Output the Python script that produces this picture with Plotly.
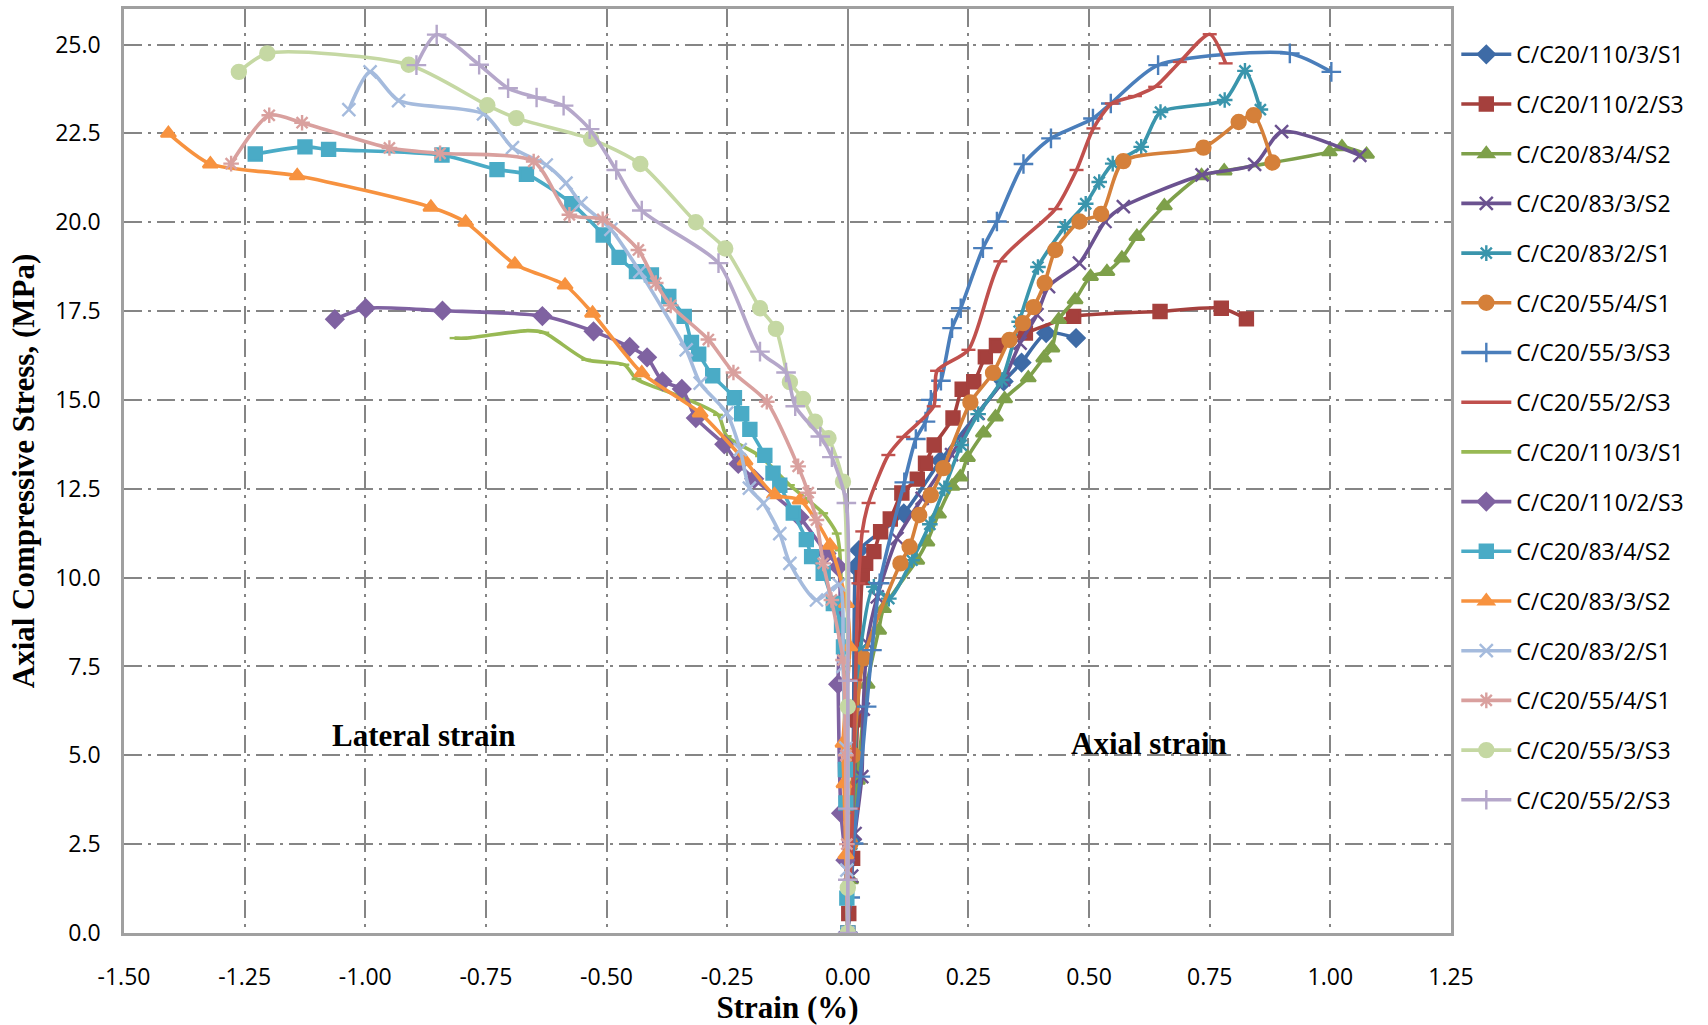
import plotly.graph_objects as go

# ---- series names (legend order) ----
names = [
    "C/C20/110/3/S1", "C/C20/110/2/S3", "C/C20/83/4/S2", "C/C20/83/3/S2",
    "C/C20/83/2/S1", "C/C20/55/4/S1", "C/C20/55/3/S3", "C/C20/55/2/S3",
    "C/C20/110/3/S1", "C/C20/110/2/S3", "C/C20/83/4/S2", "C/C20/83/3/S2",
    "C/C20/83/2/S1", "C/C20/55/4/S1", "C/C20/55/3/S3", "C/C20/55/2/S3",
]

# ---- axial strain (%) vs stress (MPa) ----
ax_110_3_s1_x = [0, 0.008, 0.012, 0.016, 0.023, 0.116, 0.192, 0.323, 0.360, 0.411, 0.473]
ax_110_3_s1_y = [0, 2.62, 6.0, 10.3, 10.77, 11.81, 13.29, 15.52, 16.05, 16.88, 16.74]

ax_110_2_s3_x = [0, 0.002, 0.010, 0.020, 0.030, 0.037, 0.054, 0.068, 0.088, 0.112, 0.144,
                 0.161, 0.179, 0.218, 0.237, 0.261, 0.285, 0.308, 0.368, 0.468, 0.647, 0.774, 0.826]
ax_110_2_s3_y = [0, 0.55, 2.1, 6.0, 10.0, 10.40, 10.73, 11.29, 11.65, 12.38, 12.77,
                 13.22, 13.73, 14.49, 15.30, 15.51, 16.21, 16.53, 16.88, 17.35, 17.49, 17.58, 17.28]

ax_83_4_s2_x = [0, 0.006, 0.020, 0.040, 0.064, 0.074, 0.143, 0.164, 0.188, 0.216, 0.233, 0.248,
                0.281, 0.306, 0.325, 0.374, 0.406, 0.423, 0.437, 0.471, 0.503, 0.537, 0.568,
                0.599, 0.656, 0.733, 0.780, 0.998, 1.024, 1.075]
ax_83_4_s2_y = [0, 1.5, 4.3, 7.0, 8.52, 9.13, 10.49, 11.0, 11.79, 12.57, 12.83, 13.38,
                14.07, 14.52, 15.03, 15.62, 16.18, 16.46, 17.26, 17.82, 18.47, 18.61, 18.99,
                19.60, 20.46, 21.31, 21.44, 21.98, 22.12, 21.91]

ax_83_3_s2_x = [0, 0.008, 0.015, 0.029, 0.032, 0.040, 0.061, 0.102, 0.154, 0.215, 0.270, 0.323,
                0.357, 0.392, 0.416, 0.480, 0.533, 0.571, 0.734, 0.843, 0.899, 1.061]
ax_83_3_s2_y = [0, 1.6, 2.8, 4.40, 6.3, 8.15, 9.46, 11.1, 12.23, 13.46, 14.62, 15.57,
                16.6, 17.40, 18.19, 18.85, 20.02, 20.44, 21.33, 21.63, 22.55, 21.88]

ax_83_2_s1_x = [0, 0.008, 0.015, 0.026, 0.054, 0.085, 0.133, 0.170, 0.200, 0.235, 0.270, 0.319,
                0.355, 0.394, 0.450, 0.493, 0.521, 0.549, 0.608, 0.648, 0.781, 0.823, 0.855]
ax_83_2_s1_y = [0, 2.5, 5.0, 7.96, 9.74, 9.41, 10.49, 11.5, 12.51, 13.73, 14.6, 15.56,
                17.2, 18.74, 19.87, 20.52, 21.13, 21.65, 22.12, 23.10, 23.44, 24.26, 23.17]

ax_55_4_s1_x = [0, 0.005, 0.012, 0.033, 0.109, 0.128, 0.148, 0.172, 0.198, 0.254, 0.301, 0.335,
                0.363, 0.385, 0.408, 0.430, 0.480, 0.525, 0.571, 0.737, 0.810, 0.841, 0.880]
ax_55_4_s1_y = [0, 2.5, 5.0, 7.73, 10.40, 10.87, 11.76, 12.32, 13.08, 14.93, 15.76, 16.69,
                17.16, 17.61, 18.29, 19.22, 20.02, 20.23, 21.72, 22.10, 22.82, 23.01, 21.68]

ax_55_3_s3_x = [0, 0.005, 0.012, 0.026, 0.039, 0.050, 0.066, 0.117, 0.141, 0.161, 0.172, 0.193,
                0.216, 0.234, 0.280, 0.309, 0.364, 0.421, 0.508, 0.545, 0.643, 0.916, 1.002]
ax_55_3_s3_y = [0, 1.0, 2.52, 4.40, 6.37, 7.96, 9.84, 12.68, 13.90, 14.39, 15.0, 15.54,
                17.02, 17.58, 19.27, 20.02, 21.64, 22.36, 22.92, 23.34, 24.42, 24.75, 24.23]

ax_55_2_s3_x = [0, 0.005, 0.010, 0.016, 0.022, 0.030, 0.043, 0.084, 0.115, 0.178, 0.185, 0.250,
                0.316, 0.430, 0.474, 0.509, 0.547, 0.595, 0.637, 0.688, 0.750, 0.783]
ax_55_2_s3_y = [0, 1.5, 3.5, 7.12, 9.84, 11.3, 12.1, 13.45, 13.96, 14.82, 15.82, 16.41,
                18.9, 20.37, 21.47, 22.64, 23.34, 23.55, 23.81, 24.51, 25.29, 24.47]

# ---- lateral strain (%) vs stress (MPa) ----
lat_110_3_s1_x = [0, -0.003, -0.005, -0.008, -0.017, -0.023, -0.051, -0.120, -0.182, -0.251,
                  -0.269, -0.348, -0.438, -0.463, -0.542, -0.629, -0.663, -0.790, -0.815]
lat_110_3_s1_y = [0, 1.9, 4.4, 7.1, 10.77, 11.24, 11.81, 12.6, 13.42, 13.98,
                  14.58, 15.1, 15.59, 15.99, 16.13, 16.89, 16.95, 16.74, 16.74]

lat_110_2_s3_x = [0, -0.005, -0.014, -0.020, -0.020, -0.044, -0.100, -0.194, -0.227, -0.256,
                  -0.315, -0.344, -0.384, -0.416, -0.452, -0.527, -0.633, -0.840, -0.999, -1.063]
lat_110_2_s3_y = [0, 2.05, 3.37, 7.0, 10.3, 10.68, 11.7, 12.78, 13.20, 13.75,
                  14.49, 15.31, 15.52, 16.20, 16.49, 16.93, 17.36, 17.51, 17.58, 17.27]

lat_83_4_s2_x = [0, -0.002, -0.004, -0.005, -0.009, -0.013, -0.030, -0.051, -0.075, -0.086,
                 -0.113, -0.141, -0.155, -0.172, -0.203, -0.220, -0.235, -0.280, -0.309, -0.324,
                 -0.339, -0.371, -0.407, -0.438, -0.474, -0.507, -0.572, -0.666, -0.727, -0.841,
                 -1.076, -1.125, -1.228]
lat_83_4_s2_y = [0, 0.98, 3.66, 4.6, 8.05, 8.66, 9.27, 10.12, 10.59, 11.07,
                 11.82, 12.6, 12.94, 13.44, 14.17, 14.61, 15.06, 15.68, 16.29, 16.62,
                 17.35, 17.91, 18.52, 18.61, 19.01, 19.64, 20.52, 21.35, 21.48, 21.89,
                 22.05, 22.12, 21.92]

lat_83_3_s2_x = [0, -0.004, -0.008, -0.010, 0.004, -0.003, -0.037, -0.099, -0.152, -0.213,
                 -0.306, -0.427, -0.529, -0.586, -0.690, -0.792, -0.864, -1.141, -1.321, -1.408]
lat_83_3_s2_y = [0, 2.2, 4.2, 5.34, 8.05, 9.27, 10.91, 12.18, 12.33, 13.28,
                 14.63, 15.76, 17.44, 18.23, 18.82, 20.0, 20.42, 21.31, 21.64, 22.50]

lat_83_2_s1_x = [0, -0.002, -0.004, -0.010, -0.018, -0.065, -0.120, -0.141, -0.175, -0.204,
                 -0.223, -0.251, -0.306, -0.335, -0.431, -0.491, -0.553, -0.584, -0.625, -0.695,
                 -0.755, -0.931, -0.990, -1.034]
lat_83_2_s1_y = [0, 1.77, 5.2, 7.5, 9.8, 9.37, 10.40, 11.24, 12.09, 12.52,
                 13.6, 14.63, 15.47, 16.41, 18.61, 19.80, 20.54, 21.1, 21.61, 22.10,
                 23.05, 23.42, 24.23, 23.17]

lat_55_4_s1_x = [0, -0.002, -0.004, -0.010, -0.034, -0.051, -0.065, -0.082, -0.103, -0.168,
                 -0.237, -0.289, -0.367, -0.398, -0.434, -0.508, -0.577, -0.651, -0.845, -0.950,
                 -1.131, -1.199, -1.278]
lat_55_4_s1_y = [0, 2.5, 5.0, 7.68, 9.37, 10.40, 11.62, 12.39, 13.13, 14.95,
                 15.77, 16.70, 17.66, 18.29, 19.22, 20.08, 20.21, 21.71, 21.94, 22.09,
                 22.80, 23.01, 21.65]

lat_55_3_s3_x = [0, 0, 0, -0.010, -0.040, -0.068, -0.093, -0.120, -0.149, -0.182,
                 -0.254, -0.315, -0.430, -0.532, -0.687, -0.747, -0.910, -1.203, -1.262]
lat_55_3_s3_y = [0, 1.27, 6.37, 12.70, 13.92, 14.39, 15.03, 15.5, 17.0, 17.58,
                 19.26, 20.0, 21.64, 22.34, 22.93, 23.29, 24.43, 24.75, 24.23]

lat_55_2_s3_x = [0, 0, 0, 0, -0.003, -0.033, -0.057, -0.109, -0.128, -0.182,
                 -0.268, -0.427, -0.480, -0.535, -0.589, -0.645, -0.704, -0.764, -0.852, -0.894]
lat_55_2_s3_y = [0, 1.5, 3.5, 7.1, 12.10, 13.39, 13.97, 14.82, 15.77, 16.36,
                 18.85, 20.33, 21.47, 22.62, 23.28, 23.51, 23.77, 24.43, 25.28, 24.42]

# ---- axis ticks ----
x_tick_vals = [-1.5, -1.25, -1.0, -0.75, -0.5, -0.25, 0.0, 0.25, 0.5, 0.75, 1.0, 1.25]
x_tick_text = ["-1.50", "-1.25", "-1.00", "-0.75", "-0.50", "-0.25", "0.00",
               "0.25", "0.50", "0.75", "1.00", "1.25"]
y_tick_vals = [0, 2.5, 5.0, 7.5, 10.0, 12.5, 15.0, 17.5, 20.0, 22.5, 25.0]
y_tick_text = ["0.0", "2.5", "5.0", "7.5", "10.0", "12.5", "15.0", "17.5", "20.0", "22.5", "25.0"]

series_x = [ax_110_3_s1_x, ax_110_2_s3_x, ax_83_4_s2_x, ax_83_3_s2_x,
            ax_83_2_s1_x, ax_55_4_s1_x, ax_55_3_s3_x, ax_55_2_s3_x,
            lat_110_3_s1_x, lat_110_2_s3_x, lat_83_4_s2_x, lat_83_3_s2_x,
            lat_83_2_s1_x, lat_55_4_s1_x, lat_55_3_s3_x, lat_55_2_s3_x]
series_y = [ax_110_3_s1_y, ax_110_2_s3_y, ax_83_4_s2_y, ax_83_3_s2_y,
            ax_83_2_s1_y, ax_55_4_s1_y, ax_55_3_s3_y, ax_55_2_s3_y,
            lat_110_3_s1_y, lat_110_2_s3_y, lat_83_4_s2_y, lat_83_3_s2_y,
            lat_83_2_s1_y, lat_55_4_s1_y, lat_55_3_s3_y, lat_55_2_s3_y]

# ---- styles: colour, marker symbol, marker size ----
colors = ["#3E6BA6", "#A5403D", "#7EA04A", "#6B5290", "#3A95AC", "#D5803A",
          "#4A7EBB", "#C0504D", "#98B954", "#7F62A1", "#4AABC6", "#F7923F",
          "#A5BBDD", "#D9A09E", "#C5D8A3", "#B5A7CA"]
symbols = ["diamond", "square", "triangle-up", "x-thin", "asterisk", "circle",
           "cross-thin", "line-ew", "line-ew", "diamond", "square", "triangle-up",
           "x-thin", "asterisk", "circle", "cross-thin"]
sizes = [13, 13, 13, 13, 13, 14, 14, 10, 7, 13, 13, 13, 13, 13, 14, 14]

fig = go.Figure()
for i in range(16):
    c = colors[i]
    fig.add_trace(go.Scatter(
        x=series_x[i], y=series_y[i], name=names[i],
        legendgroup="g%d" % i,
        mode="lines+markers",
        line=dict(color=c, width=3.6, shape="spline", smoothing=0.7),
        marker=dict(symbol=symbols[i], size=sizes[i], color=c,
                    line=dict(color=c, width=2.4)),
    ))

grid_dash = "18px,6px,3px,6px"
axis_font = dict(family="Open Sans", size=23, color="#000000")
title_font = dict(family="Liberation Serif", size=31, color="#000000", weight="bold")

fig.update_layout(
    width=1708, height=1025,
    margin=dict(l=124, r=257, t=9, b=92),
    paper_bgcolor="white", plot_bgcolor="white",
    showlegend=True,
    legend=dict(
        x=1.004, xanchor="left", y=0.9742, yanchor="top",
        font=dict(family="Open Sans", size=23, color="#000000"),
        traceorder="grouped", tracegroupgap=16.8, itemwidth=50,
        bgcolor="rgba(0,0,0,0)",
    ),
    xaxis=dict(
        range=[-1.5, 1.25], tickvals=x_tick_vals, ticktext=x_tick_text,
        tickfont=axis_font, ticks="", ticklabelstandoff=22, automargin=False,
        showgrid=True, gridcolor="#858585", gridwidth=1.6, griddash=grid_dash,
        zeroline=True, zerolinecolor="#8A8A8A", zerolinewidth=2.2,
        showline=True, linecolor="#A0A0A0", linewidth=2.5, mirror=True,
        title=dict(text="Strain (%)", font=title_font, standoff=8),
    ),
    yaxis=dict(
        range=[0, 26], tickvals=y_tick_vals, ticktext=y_tick_text,
        tickfont=axis_font, ticks="", ticklabelstandoff=16, automargin=False,
        showgrid=True, gridcolor="#858585", gridwidth=1.6, griddash=grid_dash,
        zeroline=False,
        showline=True, linecolor="#A0A0A0", linewidth=2.5, mirror=True,
        title=dict(text="Axial Compressive Stress, (MPa)", font=title_font, standoff=12),
    ),
    shapes=[dict(type="rect", xref="x", yref="y", x0=0.398, x1=0.857, y0=4.73, y1=6.19,
                 fillcolor="white", line=dict(width=0), layer="below")],
    annotations=[
        dict(x=-0.879, y=5.57, xref="x", yref="y", text="Lateral strain", showarrow=False,
             font=dict(family="Liberation Serif", size=31, color="#000000", weight="bold")),
        dict(x=0.625, y=5.34, xref="x", yref="y", text="Axial strain", showarrow=False,
             font=dict(family="Liberation Serif", size=31, color="#000000", weight="bold")),
    ],
)

fig.write_html("out.html")
